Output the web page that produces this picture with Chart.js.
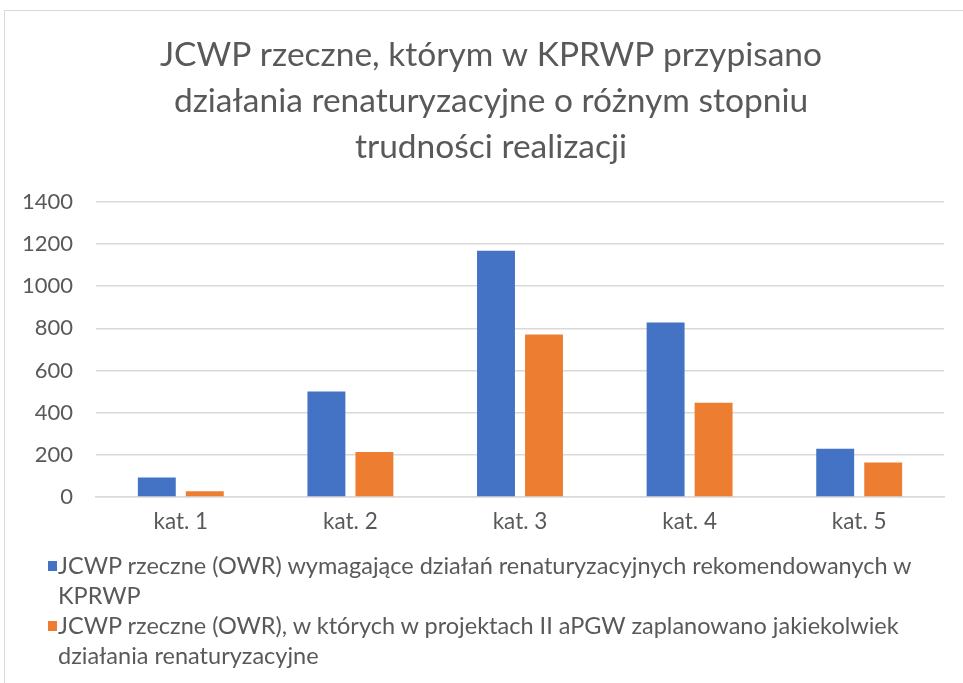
<!DOCTYPE html>
<html>
<head>
<meta charset="utf-8">
<script src="https://cdn.jsdelivr.net/npm/chart.js@4.4.0/dist/chart.umd.min.js"></script>
<style>
  html, body { margin: 0; padding: 0; background: #fff; }
  body { width: 963px; height: 683px; position: relative; overflow: hidden; font-family: Lato, "Open Sans", sans-serif; }
  #frame { position: absolute; left: 4px; top: 10px; width: 1000px; height: 700px; border: 1px solid #d9d9d9; }
  #chart { position: absolute; left: 0; top: 0; }
  #legend { position: absolute; left: 48px; top: 550px; width: 900px; color: #595959; font-size: 23.5px; line-height: 30px; }
  .item { display: flex; align-items: flex-start; }
  .box { flex: none; width: 9px; height: 10px; margin: 11px 1px 0 0; }
</style>
</head>
<body>
<div id="frame"></div>
<canvas id="chart" width="963" height="683"></canvas>
<div id="legend"></div>
<script>
const categories = ['kat. 1', 'kat. 2', 'kat. 3', 'kat. 4', 'kat. 5'];
const seriesNames = [
  'JCWP rzeczne (OWR) wymagające działań renaturyzacyjnych rekomendowanych w KPRWP',
  'JCWP rzeczne (OWR), w których w projektach II aPGW zaplanowano jakiekolwiek działania renaturyzacyjne',
];
const recommended = [93, 500, 1167, 827, 229];
const planned = [27, 213, 770, 447, 163];
const yTicks = [0, 200, 400, 600, 800, 1000, 1200, 1400];
const titleLines = [
  'JCWP rzeczne, którym w KPRWP przypisano',
  'działania renaturyzacyjne o różnym stopniu',
  'trudności realizacji',
];

const textColor = '#595959';
const gridColor = '#d9d9d9';

// centre the title on the frame rather than on the padded layout box
const shiftTitle = {
  id: 'shiftTitle',
  afterLayout(chart) {
    chart.titleBlock.left = 19;
    chart.titleBlock.right = 963;
  },
};

const chart = new Chart(document.getElementById('chart'), {
  type: 'bar',
  data: {
    labels: categories,
    datasets: [
      {label: seriesNames[0], data: recommended, backgroundColor: '#4472C4'},
      {label: seriesNames[1], data: planned, backgroundColor: '#ED7D31'},
    ],
  },
  options: {
    responsive: false,
    animation: false,
    categoryPercentage: 0.566,
    barPercentage: 0.79,
    layout: {padding: {left: 0, right: 19, top: 10, bottom: 149}},
    plugins: {
      legend: {display: false},
      tooltip: {enabled: false},
      title: {
        display: true,
        text: titleLines,
        color: textColor,
        font: {family: 'Lato', size: 33.5, weight: 'normal', lineHeight: 1.38},
        padding: {top: 22, bottom: 31},
      },
    },
    scales: {
      x: {
        grid: {display: false, drawTicks: false},
        border: {color: gridColor, width: 1.5},
        ticks: {color: textColor, font: {family: 'Lato', size: 22.5}, padding: 11},
        afterFit: (scale) => { scale.height = 37; },
      },
      y: {
        min: 0,
        max: 1400,
        afterBuildTicks: (scale) => { scale.ticks = yTicks.map((v) => ({value: v})); },
        grid: {color: gridColor, lineWidth: 1.5, drawTicks: false},
        border: {display: false},
        ticks: {color: textColor, font: {family: 'Lato', size: 22}, padding: 23, callback: (v) => String(v)},
        afterFit: (scale) => { scale.width = 96; },
      },
    },
  },
  plugins: [shiftTitle],
});

// legend with wrapped text, built from the chart's datasets
const legend = document.getElementById('legend');
chart.data.datasets.forEach((ds) => {
  const item = document.createElement('div');
  item.className = 'item';
  const box = document.createElement('span');
  box.className = 'box';
  box.style.background = ds.backgroundColor;
  const txt = document.createElement('span');
  txt.textContent = ds.label;
  item.appendChild(box);
  item.appendChild(txt);
  legend.appendChild(item);
});
</script>
</body>
</html>
